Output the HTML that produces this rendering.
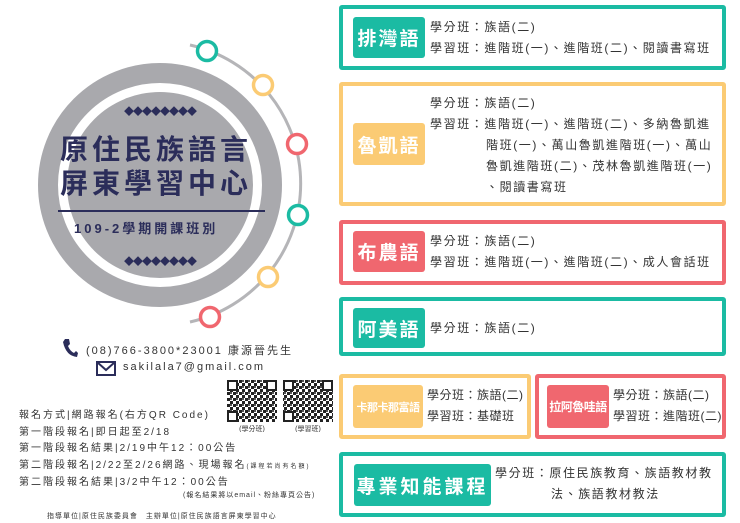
<!DOCTYPE html>
<html><head><meta charset="utf-8"><style>
*{margin:0;padding:0;box-sizing:border-box}
body{width:740px;height:523px;background:#fff;position:relative;overflow:hidden;font-family:"Liberation Sans","Noto Sans CJK TC",sans-serif;color:#333}
.a{position:absolute;white-space:nowrap}
.box{position:absolute;border:4px solid;border-radius:3px;background:#fff}
.lab{position:absolute;border-radius:3px;color:#fff;font-weight:bold;display:flex;align-items:center;justify-content:center;font-size:17px;letter-spacing:2px;white-space:nowrap}
.t{position:absolute;font-size:12px;letter-spacing:1.6px;line-height:21px;white-space:nowrap;color:#333}
.teal{border-color:#1bbba3}.tb{background:#1bbba3}
.yel{border-color:#fbcb74}.yb{background:#fbcb74}
.red{border-color:#f0676f}.rb{background:#f0676f}
.l{font-size:10px;letter-spacing:2px;color:#333}
</style></head><body>
<svg class="a" style="left:0;top:0" width="340" height="340">
<path d="M190 45 A142 142 0 0 1 190 322" fill="none" stroke="#b5b5b8" stroke-width="3"/>
<circle cx="160" cy="185" r="112" fill="none" stroke="#a9a9ad" stroke-width="20"/>
<circle cx="160" cy="185" r="93" fill="#a9a9ad"/>
<g fill="#fff" stroke-width="3.5">
<circle cx="207" cy="51" r="9.5" stroke="#1bbba3"/>
<circle cx="263" cy="85" r="9.5" stroke="#fbcb74"/>
<circle cx="297" cy="144" r="9.5" stroke="#f0676f"/>
<circle cx="298" cy="215" r="9.5" stroke="#1bbba3"/>
<circle cx="268" cy="277" r="9.5" stroke="#fbcb74"/>
<circle cx="210" cy="317" r="9.5" stroke="#f0676f"/>
</g>
<line x1="58" y1="211" x2="265" y2="211" stroke="#2b2d5a" stroke-width="2"/>
<g fill="#2b2d5a">
<text x="160" y="115" text-anchor="middle" font-size="10" letter-spacing="-1">◆◆◆◆◆◆◆◆</text>
<text x="160" y="265" text-anchor="middle" font-size="10" letter-spacing="-1">◆◆◆◆◆◆◆◆</text>
</g>
</svg>
<div class="a" style="left:60px;top:133px;font-size:28px;font-weight:bold;color:#2b2d5a;letter-spacing:4px;line-height:34px">原住民族語言<br>屏東學習中心</div>
<div class="a" style="left:74px;top:218px;font-size:13px;font-weight:bold;color:#2b2d5a;letter-spacing:3px">109-2學期開課班別</div>

<svg class="a" style="left:62px;top:338px" width="16" height="20"><path d="M3 1 L7 1 L8 6 L6 8 Q8 13 12 15 L14 13 L16 15 L15 19 Q4 18 1 4 Z" fill="#2b2d5a"/></svg>
<div class="a" style="left:86px;top:341px" ><span class="l" style="font-size:11px">(08)766-3800*23001 康源晉先生</span></div>
<svg class="a" style="left:96px;top:361px" width="20" height="15"><rect x="1" y="1" width="18" height="13" fill="none" stroke="#2b2d5a" stroke-width="2"/><path d="M1 1 L10 9 L19 1" fill="none" stroke="#2b2d5a" stroke-width="2"/></svg>
<div class="a" style="left:123px;top:361px;font-size:11px;letter-spacing:2px">sakilala7@gmail.com</div>
<svg class="a" style="left:227px;top:380px" width="110" height="52">
<defs><pattern id="q" width="6" height="6" patternUnits="userSpaceOnUse"><rect width="3" height="3" fill="#222"/><rect x="3" y="3" width="3" height="3" fill="#222"/><rect x="3" y="0" width="2" height="2" fill="#555"/></pattern></defs>
<rect x="0" y="0" width="50" height="42" fill="url(#q)"/><rect x="56" y="0" width="50" height="42" fill="url(#q)"/>
<g fill="#fff" stroke="#222" stroke-width="2"><rect x="1" y="1" width="9" height="9"/><rect x="40" y="1" width="9" height="9"/><rect x="1" y="32" width="9" height="9"/><rect x="57" y="1" width="9" height="9"/><rect x="96" y="1" width="9" height="9"/><rect x="57" y="32" width="9" height="9"/></g>
<text x="25" y="51" font-size="7" text-anchor="middle" fill="#333">(學分班)</text><text x="81" y="51" font-size="7" text-anchor="middle" fill="#333">(學習班)</text>
</svg>
<div class="a l" style="left:19px;top:408px;line-height:16.5px">報名方式|網路報名(右方QR Code)<br>第一階段報名|即日起至2/18<br>第一階段報名結果|2/19中午12：00公告<br>第二階段報名|2/22至2/26網路、現場報名<span style="font-size:6px">(課程若尚有名額)</span><br>第二階段報名結果|3/2中午12：00公告</div>
<div class="a" style="left:183px;top:490px;font-size:7px;letter-spacing:1px">(報名結果將以email、粉絲專頁公告)</div>
<div class="a" style="left:47px;top:511px;font-size:7px;letter-spacing:1px">指導單位|原住民族委員會　主辦單位|原住民族語言屏東學習中心</div>

<div class="box teal" style="left:339px;top:5px;width:387px;height:65px"></div>
<div class="lab tb" style="left:353px;top:17px;width:72px;height:41px;font-size:19px">排灣語</div>
<div class="t" style="left:430px;top:17px">學分班：族語(二)<br>學習班：進階班(一)、進階班(二)、閱讀書寫班</div>

<div class="box yel" style="left:339px;top:82px;width:387px;height:124px"></div>
<div class="lab yb" style="left:353px;top:123px;width:72px;height:42px;font-size:19px">魯凱語</div>
<div class="t" style="left:430px;top:93px">學分班：族語(二)<br>學習班：進階班(一)、進階班(二)、多納魯凱進<br><span style="padding-left:56px">階班(一)、萬山魯凱進階班(一)、萬山</span><br><span style="padding-left:56px">魯凱進階班(二)、茂林魯凱進階班(一)</span><br><span style="padding-left:56px">、閱讀書寫班</span></div>

<div class="box red" style="left:339px;top:220px;width:387px;height:65px"></div>
<div class="lab rb" style="left:353px;top:231px;width:72px;height:41px;font-size:19px">布農語</div>
<div class="t" style="left:430px;top:231px">學分班：族語(二)<br>學習班：進階班(一)、進階班(二)、成人會話班</div>

<div class="box teal" style="left:339px;top:297px;width:387px;height:59px"></div>
<div class="lab tb" style="left:353px;top:308px;width:72px;height:40px;font-size:19px">阿美語</div>
<div class="t" style="left:430px;top:318px">學分班：族語(二)</div>

<div class="box yel" style="left:339px;top:374px;width:192px;height:65px"></div>
<div class="lab yb" style="left:353px;top:385px;width:70px;height:43px;font-size:11px;letter-spacing:-0.5px">卡那卡那富語</div>
<div class="t" style="left:427px;top:385px;letter-spacing:0.5px">學分班：族語(二)<br>學習班：基礎班</div>

<div class="box red" style="left:535px;top:374px;width:191px;height:65px"></div>
<div class="lab rb" style="left:547px;top:385px;width:62px;height:43px;font-size:12px;letter-spacing:-0.5px">拉阿魯哇語</div>
<div class="t" style="left:613px;top:385px;letter-spacing:0.5px">學分班：族語(二)<br>學習班：進階班(二)</div>

<div class="box teal" style="left:339px;top:452px;width:387px;height:65px"></div>
<div class="lab tb" style="left:354px;top:464px;width:137px;height:42px;font-size:19px;letter-spacing:3px">專業知能課程</div>
<div class="t" style="left:495px;top:463px">學分班：原住民族教育、族語教材教<br><span style="padding-left:56px">法、族語教材教法</span></div>
</body></html>
